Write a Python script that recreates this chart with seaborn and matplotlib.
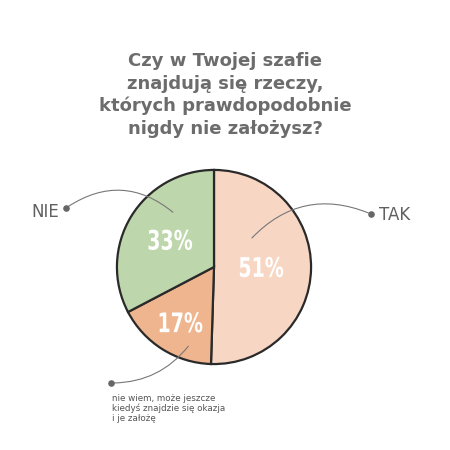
import matplotlib.pyplot as plt
import seaborn as sns
from matplotlib.textpath import TextPath
from matplotlib.patches import PathPatch
from matplotlib.font_manager import FontProperties
from matplotlib.transforms import Affine2D

sns.set_theme(style='white')
plt.rcParams['font.family'] = ['DejaVu Sans']

# Data
labels = ['TAK', 'nie wiem, może jeszcze\nkiedyś znajdzie się okazja\ni je założę', 'NIE']
values = [51, 17, 33]
colors = ['#f8d6c4', '#eeb58e', '#bed6ab']
title = 'Czy w Twojej szafie\nznajdują się rzeczy,\nktórych prawdopodobnie\nnigdy nie założysz?'

fig = plt.figure(figsize=(4.5, 4.5), dpi=100)
fig.patch.set_facecolor('white')

# pie axes: center (214, 267) px, radius 99 px
lim = 1.02
ax = fig.add_axes([115 / 450, (183 - 99) / 450, 198 / 450, 198 / 450])
wedges, _ = ax.pie(values, colors=colors, startangle=90, counterclock=False,
                   wedgeprops=dict(edgecolor='#2a2a2a', linewidth=1.6))
ax.set_xlim(-lim, lim)
ax.set_ylim(-lim, lim)
ax.set_aspect('equal')
ax.axis('off')

# percentage labels: condensed look by squeezing the glyph outlines
px_per_unit = 198 / (2 * lim)
k = (100 / 72) / px_per_unit   # data units per point
fp = FontProperties(family='DejaVu Sans', weight='bold')
pct_pos = [(0.49, 0.0), (-0.34, -0.57), (-0.45, 0.28)]
for v, (x, y) in zip(values, pct_pos):
    tp = TextPath((0, 0), f'{v}%', size=18, prop=fp)
    ext = tp.get_extents()
    cx, cy = (ext.x0 + ext.x1) / 2, (ext.y0 + ext.y1) / 2
    tr = Affine2D().translate(-cx, -cy).scale(0.76 * k, 1.08 * k).translate(x, y)
    ax.add_patch(PathPatch(tr.transform_path(tp), facecolor='white',
                           edgecolor='none', zorder=5))

# overlay in pixel coordinates for title, labels, leader lines
ov = fig.add_axes([0, 0, 1, 1], facecolor='none')
ov.set_xlim(0, 450)
ov.set_ylim(450, 0)
ov.axis('off')

ov.text(225, 95, title, ha='center', va='center', fontsize=13, fontweight='bold',
        color='#6c6c6c', linespacing=1.3)

line_kw = dict(arrowstyle='-', color='#777777', lw=0.8)
# TAK
ov.annotate('', xy=(250, 240), xytext=(371, 214),
            arrowprops=dict(connectionstyle='arc3,rad=0.35', **line_kw))
ov.scatter([371], [214], s=14, color='#666666', zorder=5)
ov.text(379, 215, labels[0], fontsize=12, color='#606060', va='center', ha='left')
# NIE
ov.annotate('', xy=(175, 214), xytext=(66, 208),
            arrowprops=dict(connectionstyle='arc3,rad=-0.38', **line_kw))
ov.scatter([66], [208], s=14, color='#666666', zorder=5)
ov.text(59, 212, labels[2], fontsize=12, color='#606060', va='center', ha='right')
# nie wiem
ov.annotate('', xy=(190, 344), xytext=(111, 383),
            arrowprops=dict(connectionstyle='arc3,rad=0.25', **line_kw))
ov.scatter([111], [383], s=14, color='#666666', zorder=5)
ov.text(112, 394, labels[1], fontsize=6.3, color='#555555', va='top', ha='left',
        linespacing=1.1)

fig.savefig('out.png', dpi=100, facecolor='white')
